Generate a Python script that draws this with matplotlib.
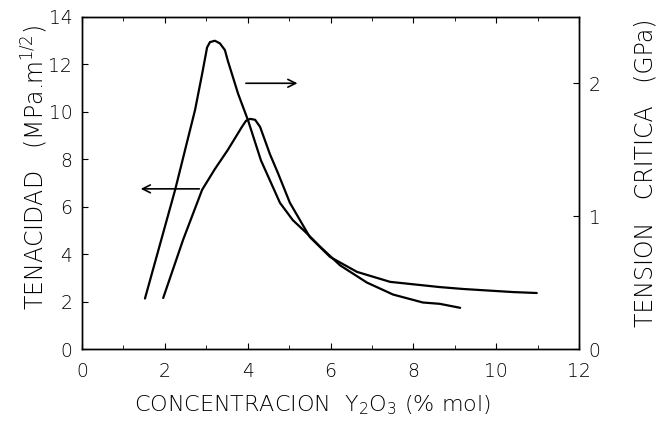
import matplotlib
matplotlib.use("Agg")
import matplotlib.pyplot as plt
from matplotlib.ticker import MultipleLocator

plt.rcParams['font.family'] = ['DejaVu Sans']
plt.rcParams['font.weight'] = 'light'
plt.rcParams['axes.labelweight'] = 'light'
plt.rcParams['mathtext.fontset'] = 'custom'
plt.rcParams['mathtext.rm'] = 'DejaVu Sans:light'
plt.rcParams['mathtext.it'] = 'DejaVu Sans:light'

# tenacidad (left axis, MPa.m^1/2)
ten_x = [1.96, 2.44, 2.90, 3.21, 3.52, 3.86, 3.96, 4.06, 4.18, 4.30, 4.54, 4.73, 5.02, 5.50, 5.99, 6.64, 7.44, 8.64, 9.20, 10.41, 10.98]
ten_y = [2.15, 4.60, 6.71, 7.59, 8.39, 9.36, 9.62, 9.70, 9.66, 9.36, 8.20, 7.42, 6.16, 4.72, 3.88, 3.25, 2.83, 2.61, 2.53, 2.40, 2.36]

# tension critica (right axis, GPa)
crit_x = [1.52, 2.25, 2.49, 2.73, 2.90, 3.02, 3.09, 3.21, 3.33, 3.45, 3.52, 3.77, 4.01, 4.32, 4.78, 5.09, 5.43, 5.75, 6.23, 6.88, 7.51, 8.23, 8.64, 9.13]
crit_y = [0.38, 1.20, 1.50, 1.80, 2.07, 2.27, 2.31, 2.32, 2.30, 2.25, 2.17, 1.92, 1.72, 1.42, 1.10, 0.97, 0.87, 0.77, 0.63, 0.50, 0.41, 0.35, 0.34, 0.31]

fig = plt.figure(figsize=(6.63, 4.21), dpi=100)
ax = fig.add_axes([0.1237, 0.171, 0.7496, 0.789])
ax2 = ax.twinx()

ax.plot(ten_x, ten_y, color='black', lw=1.6, solid_capstyle='round', solid_joinstyle='round')
ax2.plot(crit_x, crit_y, color='black', lw=1.6, solid_capstyle='round', solid_joinstyle='round')

ax.set_xlim(0, 12)
ax.set_ylim(0, 14)
ax2.set_ylim(0, 2.5)

ax.xaxis.set_major_locator(MultipleLocator(2))
ax.xaxis.set_minor_locator(MultipleLocator(1))
ax.yaxis.set_major_locator(MultipleLocator(2))
ax2.set_yticks([0, 1, 2])

ax.tick_params(axis='both', which='both', direction='in', top=True, labelsize=13.5)
ax.tick_params(axis='x', which='major', length=4, pad=9)
ax.tick_params(axis='x', which='minor', length=3)
ax.tick_params(axis='y', which='major', length=4, pad=7)
ax2.tick_params(axis='y', direction='in', length=4, pad=7, labelsize=13.5)

for a in (ax, ax2):
    for s in a.spines.values():
        s.set_linewidth(1.0)

# arrows pointing at the matching axis
ax.annotate('', xy=(5.27, 11.2), xytext=(3.89, 11.2),
            arrowprops=dict(arrowstyle='->', color='black', lw=1.2, mutation_scale=14))
ax.annotate('', xy=(1.35, 6.75), xytext=(2.9, 6.75),
            arrowprops=dict(arrowstyle='->', color='black', lw=1.2, mutation_scale=14))

ax.set_xlabel(r'CONCENTRACION  Y$_2$O$_3$ (% mol)', fontsize=16)
ax.set_ylabel(r'TENACIDAD   (MPa.m$^{1/2}$)', fontsize=17)
ax2.set_ylabel('TENSION   CRITICA   (GPa)', fontsize=17, rotation=90)
ax.xaxis.set_label_coords(0.463, -0.135)
ax.yaxis.set_label_coords(-0.065, 0.547)
ax2.yaxis.set_label_coords(1.11, 0.53)

fig.savefig('out.png', dpi=100)
